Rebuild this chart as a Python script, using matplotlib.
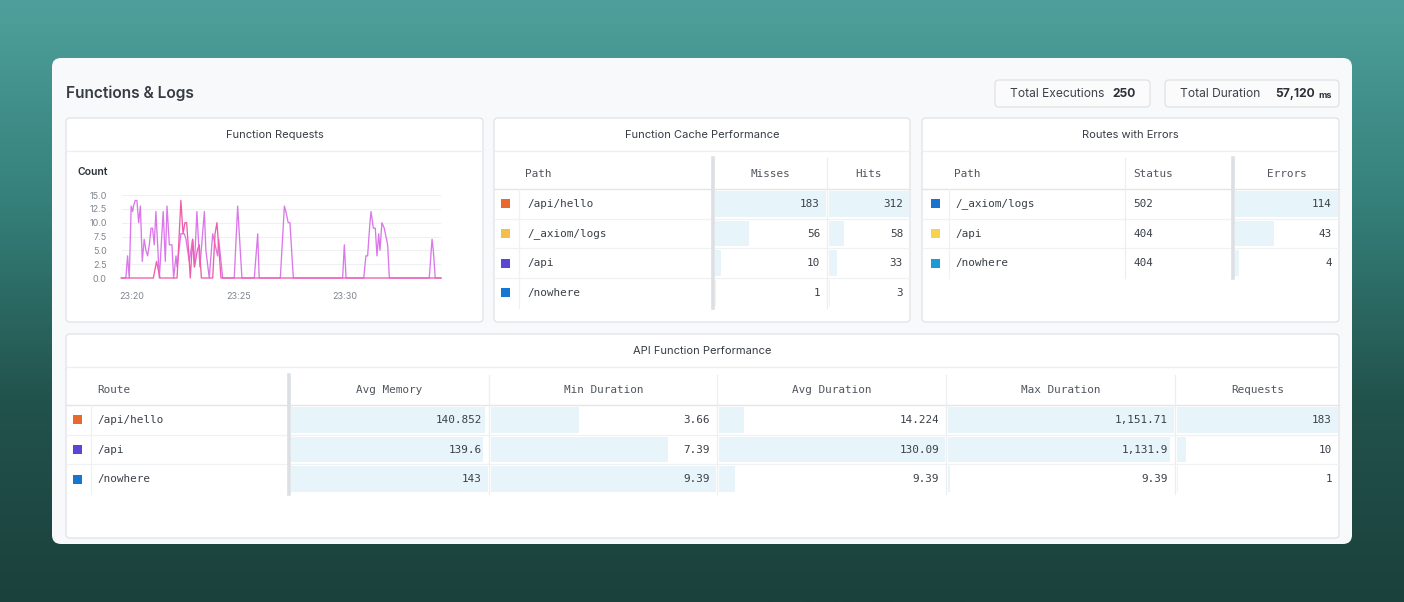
import numpy as np
import matplotlib
matplotlib.use('Agg')
import matplotlib.pyplot as plt
from matplotlib.patches import FancyBboxPatch, Rectangle
from matplotlib.colors import LinearSegmentedColormap

# ---- data ----
total_executions = '250'
total_duration = '57,120'

# function requests, minutes after 23:20
violet_t = [-0.48, -0.27, -0.19, -0.11, -0.02, 0.05, 0.09, 0.17, 0.25, 0.33, 0.41, 0.50, 0.59, 0.67,
            0.75, 0.83, 0.91, 0.98, 1.06, 1.14, 1.30, 1.48, 1.58, 1.66, 1.77, 1.89, 1.97, 2.08, 2.13,
            2.31, 2.47, 2.55, 2.70, 2.86, 2.94, 3.06, 3.20, 3.41, 3.48, 3.64, 3.80, 4.03, 4.08, 4.27,
            4.81, 4.97, 5.17, 5.75, 5.91, 5.98, 6.97, 7.16, 7.23, 7.34, 7.42, 7.58, 9.89, 9.97, 10.05,
            10.88, 10.98, 11.06, 11.17, 11.22, 11.33, 11.42, 11.50, 11.58, 11.64, 11.73, 11.84, 12.00,
            12.08, 13.95, 14.08, 14.14, 14.23, 14.50]
violet_v = [0, 0, 4, 0, 13, 12, 13, 14, 14, 10, 13, 3, 7, 5, 4, 6, 9, 9, 6, 12, 0, 12, 3, 13, 6, 6,
            0, 4, 2, 8, 8, 7, 3, 7, 2, 12, 2, 12, 5, 0, 8, 4, 7, 0, 0, 13, 0, 0, 8, 0, 0, 13, 12, 10,
            10, 0, 0, 6, 0, 0, 4, 4, 10, 12, 9, 9, 4, 8, 5, 10, 9, 6, 0, 0, 7, 5, 0, 0]
pink_t = [-0.48, 1.02, 1.17, 1.33, 2.13, 2.31, 2.41, 2.50, 2.58, 2.67, 2.75, 2.86, 2.95, 3.08, 3.17,
          3.27, 3.80, 3.91, 4.00, 4.19, 14.50]
pink_v = [0, 0, 3, 0, 0, 14, 8, 10, 10, 5, 0, 7, 2, 5, 6, 0, 0, 8, 10, 0, 0]
time_ticks = [0, 5, 10]
time_labels = ['23:20', '23:25', '23:30']

cache_paths = ['/api/hello', '/_axiom/logs', '/api', '/nowhere']
cache_colors = ['#e8692e', '#f2c04a', '#5a46d6', '#1677d2']
cache_misses = [183, 56, 10, 1]
cache_hits = [312, 58, 33, 3]

err_paths = ['/_axiom/logs', '/api', '/nowhere']
err_colors = ['#1a72cf', '#f8d24e', '#1a9ad6']
err_status = ['502', '404', '404']
err_counts = [114, 43, 4]

api_routes = ['/api/hello', '/api', '/nowhere']
api_colors = ['#e8692e', '#5a46d6', '#1677d2']
api_avg_mem = [140.852, 139.6, 143]
api_min_dur = [3.66, 7.39, 9.39]
api_avg_dur = [14.224, 130.09, 9.39]
api_max_dur = [1151.71, 1131.9, 9.39]
api_requests = [183, 10, 1]
api_labels = {
    'mem': ['140.852', '139.6', '143'],
    'min': ['3.66', '7.39', '9.39'],
    'avg': ['14.224', '130.09', '9.39'],
    'max': ['1,151.71', '1,131.9', '9.39'],
    'req': ['183', '10', '1'],
}

# ---- figure ----
W, H = 1404, 602
fig = plt.figure(figsize=(W / 100, H / 100), dpi=100)
UI = ['Inter', 'DejaVu Sans']
MONO = ['DejaVu Sans Mono', 'Liberation Mono']
DARK = '#373c45'
TXT = '#3b4048'
HEAD = '#50555e'
BAR = '#e7f4fa'


def rect(x0, y0, x1, y1):
    return [x0 / W, 1 - y1 / H, (x1 - x0) / W, (y1 - y0) / H]


def pixel_axes(zorder):
    a = fig.add_axes([0, 0, 1, 1], zorder=zorder)
    a.set_xlim(0, W)
    a.set_ylim(H, 0)
    a.axis('off')
    a.patch.set_alpha(0)
    return a


bg = pixel_axes(0)    # background, card, panels
top = pixel_axes(5)   # rules, text, swatches

cmap = LinearSegmentedColormap.from_list('bg', ['#4fa09c', '#35807a', '#22524c', '#1b413c'])
bg.imshow(np.linspace(0, 1, 256).reshape(-1, 1), extent=[0, W, H, 0], cmap=cmap,
          aspect='auto', zorder=0)

bg.add_patch(FancyBboxPatch((52, 58), 1300, 486, boxstyle='round,pad=0,rounding_size=9',
                            fc='#f8f9fa', ec='none', zorder=1))
top.text(66, 93.5, 'Functions & Logs', fontsize=11.2, fontweight='semibold', family=UI,
         color=DARK, va='center')

# badges
bg.add_patch(FancyBboxPatch((995, 80), 155, 27, boxstyle='round,pad=0,rounding_size=4',
                            fc='#fbfbfc', ec='#dfe2e6', lw=0.9, zorder=2))
top.text(1010, 94, 'Total Executions', fontsize=8.7, family=UI, color='#3d424b', va='center')
top.text(1136, 94, total_executions, fontsize=8.7, family=UI, fontweight='bold', color='#2c3038',
         va='center', ha='right')
bg.add_patch(FancyBboxPatch((1165, 80), 174, 27, boxstyle='round,pad=0,rounding_size=4',
                            fc='#fbfbfc', ec='#dfe2e6', lw=0.9, zorder=2))
top.text(1180, 94, 'Total Duration', fontsize=8.7, family=UI, color='#3d424b', va='center')
top.text(1315, 94, total_duration, fontsize=8.7, family=UI, fontweight='bold', color='#2c3038',
         va='center', ha='right')
top.text(1318, 95.5, 'ms', fontsize=6.5, family=UI, fontweight='bold', color='#2c3038', va='center')


def panel(x0, y0, x1, y1, title):
    bg.add_patch(FancyBboxPatch((x0, y0), x1 - x0, y1 - y0, boxstyle='round,pad=0,rounding_size=4',
                                fc='white', ec='#dfe2e6', lw=0.9, zorder=2))
    top.text((x0 + x1) / 2, y0 + 16.5, title, fontsize=8, family=UI, color=DARK,
             ha='center', va='center')
    top.plot([x0, x1], [y0 + 33, y0 + 33], color='#eceef1', lw=0.9)


panel(66, 118, 483, 322, 'Function Requests')
panel(494, 118, 910, 322, 'Function Cache Performance')
panel(922, 118, 1339, 322, 'Routes with Errors')
panel(66, 334, 1339, 538, 'API Function Performance')

# ---- line chart ----
top.text(77, 172, 'Count', fontsize=7.5, family=UI, fontweight='semibold', color='#2c3038',
         va='center')
ax = fig.add_axes(rect(122, 195, 441, 278), zorder=6)
ax.set_xlim(-0.45, 14.5)
ax.set_ylim(0, 15)
ax.plot(violet_t, violet_v, color='#da78ea', lw=0.95, clip_on=False, zorder=3)
ax.plot(pink_t, pink_v, color='#ee5fab', lw=0.95, clip_on=False, zorder=4)
ax.set_yticks(np.arange(0, 15.1, 2.5))
ax.set_yticklabels(['%.1f' % v for v in np.arange(0, 15.1, 2.5)])
ax.set_xticks(time_ticks)
ax.set_xticklabels(time_labels)
ax.grid(axis='y', color='#eef0f3', lw=0.8)
ax.set_axisbelow(True)
for s in ax.spines.values():
    s.set_visible(False)
ax.tick_params(axis='y', length=0, pad=11, labelsize=6.5, labelcolor='#80858e')
ax.tick_params(axis='x', length=0, pad=10, labelsize=6.5, labelcolor='#80858e')
for lab in ax.get_xticklabels() + ax.get_yticklabels():
    lab.set_family(UI)
ax.patch.set_alpha(0)


# ---- tables ----
def table(x0, x1, head_top, head_bot, row_h, rows_n, sq_x, sq_colors, vlines, thick_x):
    top.plot([x0, x1], [head_bot, head_bot], color='#e3e5e9', lw=1.0)
    for i in range(1, rows_n):
        y = head_bot + row_h * i
        top.plot([x0, x1], [y, y], color='#f0f1f3', lw=0.9)
    bottom = head_bot + row_h * rows_n
    for xv in vlines:
        top.plot([xv, xv], [head_top, bottom], color='#eceef1', lw=0.9)
    top.plot([thick_x, thick_x], [head_top, bottom], color='#dcdfe3', lw=2.6)
    top.plot([sq_x + 14, sq_x + 14], [head_bot, bottom], color='#eff1f3', lw=0.9)
    for i, c in enumerate(sq_colors):
        yc = head_bot + row_h * (i + 0.5)
        top.add_patch(Rectangle((sq_x - 4.5, yc - 4.5), 9, 9, fc=c, ec='none'))


def bar_col(x0, x1, y_top, row_h, values):
    n = len(values)
    cax = fig.add_axes(rect(x0, y_top, x1, y_top + row_h * n), zorder=3)
    cax.barh(range(n), values, height=0.86, color=BAR, left=0)
    cax.set_xlim(0, max(values))
    cax.set_ylim(n - 0.5, -0.5)
    cax.axis('off')


def cell(x, y, s, ha='left', color=TXT, size=7.9):
    top.text(x, y, s, fontsize=size, family=MONO, color=color, ha=ha, va='center')


# cache performance
rh = 29.7
table(494, 910, 158, 189, rh, 4, 505, cache_colors, [827], 713)
bar_col(715, 826, 189, rh, cache_misses)
bar_col(829, 909, 189, rh, cache_hits)
cell(525, 174, 'Path', color=HEAD)
cell(770, 174, 'Misses', ha='center', color=HEAD)
cell(869, 174, 'Hits', ha='center', color=HEAD)
for i in range(4):
    y = 189 + rh * (i + 0.5)
    cell(527, y, cache_paths[i])
    cell(820, y, str(cache_misses[i]), ha='right')
    cell(903, y, str(cache_hits[i]), ha='right')

# routes with errors
table(922, 1339, 158, 189, rh, 3, 935, err_colors, [1125], 1233)
bar_col(1235, 1338, 189, rh, err_counts)
cell(954, 174, 'Path', color=HEAD)
cell(1133, 174, 'Status', color=HEAD)
cell(1287, 174, 'Errors', ha='center', color=HEAD)
for i in range(3):
    y = 189 + rh * (i + 0.5)
    cell(955, y, err_paths[i])
    cell(1133, y, err_status[i])
    cell(1332, y, str(err_counts[i]), ha='right')

# api function performance
cols = [(291, 488, api_avg_mem, 'mem', 'Avg Memory'),
        (491, 716, api_min_dur, 'min', 'Min Duration'),
        (719, 945, api_avg_dur, 'avg', 'Avg Duration'),
        (948, 1174, api_max_dur, 'max', 'Max Duration'),
        (1177, 1338, api_requests, 'req', 'Requests')]
table(66, 1339, 375, 405, rh, 3, 77, api_colors, [489, 717, 946, 1175], 289)
cell(97, 390, 'Route', color=HEAD)
for x0, x1, vals, key, name in cols:
    bar_col(x0, x1, 405, rh, vals)
    cell((x0 + x1) / 2, 390, name, ha='center', color=HEAD)
    for i in range(3):
        cell(x1 - 6, 405 + rh * (i + 0.5), api_labels[key][i], ha='right')
for i in range(3):
    cell(97, 405 + rh * (i + 0.5), api_routes[i])

fig.savefig('out.png', dpi=100)
